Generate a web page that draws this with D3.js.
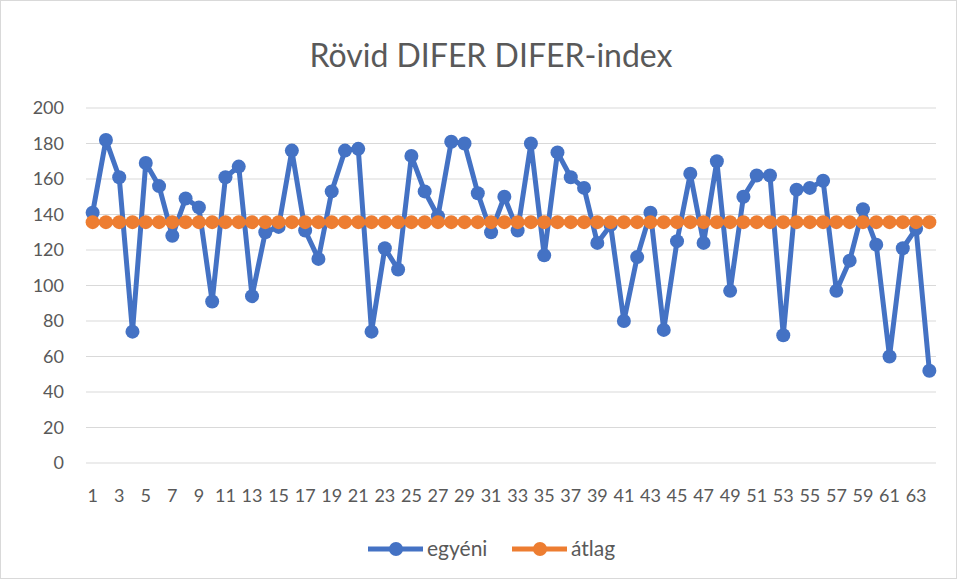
<!DOCTYPE html>
<html>
<head>
<meta charset="utf-8">
<script src="https://cdn.jsdelivr.net/npm/d3@7"></script>
<style>
  body { margin: 0; background: #fff; }
  text { font-family: Lato, "Open Sans", sans-serif; fill: #595959; }
</style>
</head>
<body>
<div id="chart"></div>
<script>
// data
var egyeni = [141, 182, 161, 74, 169, 156, 128, 149, 144, 91,
  161, 167, 94, 130, 133, 176, 131, 115, 153, 176,
  177, 74, 121, 109, 173, 153, 139, 181, 180, 152,
  130, 150, 131, 180, 117, 175, 161, 155, 124, 134,
  80, 116, 141, 75, 125, 163, 124, 170, 97, 150,
  162, 162, 72, 154, 155, 159, 97, 114, 143, 123,
  60, 121, 132, 52];
var atlagValue = 135.7;
var atlag = egyeni.map(function() { return atlagValue; });
var categories = egyeni.map(function(d, i) { return i + 1; });
var yTicks = [0, 20, 40, 60, 80, 100, 120, 140, 160, 180, 200];

var svgWidth = 957;
var svgHeight = 579;

var margin = { top: 108, right: 21, bottom: 116, left: 86 };
var width = svgWidth - margin.left - margin.right;
var height = svgHeight - margin.top - margin.bottom;

var svg = d3.select("#chart")
  .append("svg")
  .attr("width", svgWidth)
  .attr("height", svgHeight);

// outer border
svg.append("rect")
  .attr("x", 0.5)
  .attr("y", 0.5)
  .attr("width", svgWidth - 1)
  .attr("height", svgHeight - 1)
  .attr("fill", "#fff")
  .attr("stroke", "#d9d9d9");

svg.append("text")
  .attr("x", 491)
  .attr("y", 67)
  .attr("text-anchor", "middle")
  .style("font-size", "32px")
  .text("Rövid DIFER DIFER-index");

var chartGroup = svg.append("g")
  .attr("transform", `translate(${margin.left}, ${margin.top})`);

var xScale = d3.scaleBand()
  .domain(categories)
  .range([0, width]);

var yScale = d3.scaleLinear()
  .domain([0, 200])
  .range([height, 0]);

// gridlines
chartGroup.selectAll(".grid")
  .data(yTicks)
  .enter()
  .append("line")
  .attr("x1", 0)
  .attr("x2", width)
  .attr("y1", d => yScale(d))
  .attr("y2", d => yScale(d))
  .attr("stroke", "#d9d9d9")
  .attr("stroke-width", 1);

// y axis labels
var leftAxis = d3.axisLeft(yScale).tickValues(yTicks).tickSize(0).tickPadding(22);
var yAxis = chartGroup.append("g").call(leftAxis);
yAxis.select(".domain").remove();
yAxis.selectAll("text").style("font-size", "18px").attr("fill", "#595959");

// x axis labels, every other category
var bottomAxis = d3.axisBottom(xScale)
  .tickValues(categories.filter(d => d % 2 === 1))
  .tickSize(0)
  .tickPadding(26);
var xAxis = chartGroup.append("g")
  .attr("transform", `translate(0, ${height})`)
  .call(bottomAxis);
xAxis.select(".domain").remove();
xAxis.selectAll("text").style("font-size", "18px").attr("fill", "#595959");

var cx = d => xScale(d) + xScale.bandwidth() / 2;

function drawSeries(values, color) {
  var line = d3.line()
    .x((d, i) => cx(categories[i]))
    .y(d => yScale(d));

  chartGroup.append("path")
    .datum(values)
    .attr("fill", "none")
    .attr("stroke", color)
    .attr("stroke-width", 5)
    .attr("stroke-linejoin", "round")
    .attr("d", line);

  chartGroup.selectAll(null)
    .data(values)
    .enter()
    .append("circle")
    .attr("cx", (d, i) => cx(categories[i]))
    .attr("cy", d => yScale(d))
    .attr("r", 7)
    .attr("fill", color);
}

drawSeries(egyeni, "#4472c4");
drawSeries(atlag, "#ed7d31");

// legend
var legend = svg.append("g").attr("transform", "translate(0, 549)");
var items = [
  { name: "egyéni", color: "#4472c4", x: 368 },
  { name: "átlag", color: "#ed7d31", x: 512 }
];
items.forEach(function(item) {
  legend.append("line")
    .attr("x1", item.x)
    .attr("x2", item.x + 55)
    .attr("y1", 0)
    .attr("y2", 0)
    .attr("stroke", item.color)
    .attr("stroke-width", 5);
  legend.append("circle")
    .attr("cx", item.x + 28)
    .attr("cy", 0)
    .attr("r", 7)
    .attr("fill", item.color);
  legend.append("text")
    .attr("x", item.x + 59)
    .attr("y", 7)
    .style("font-size", "21px")
    .text(item.name);
});
</script>
</body>
</html>
